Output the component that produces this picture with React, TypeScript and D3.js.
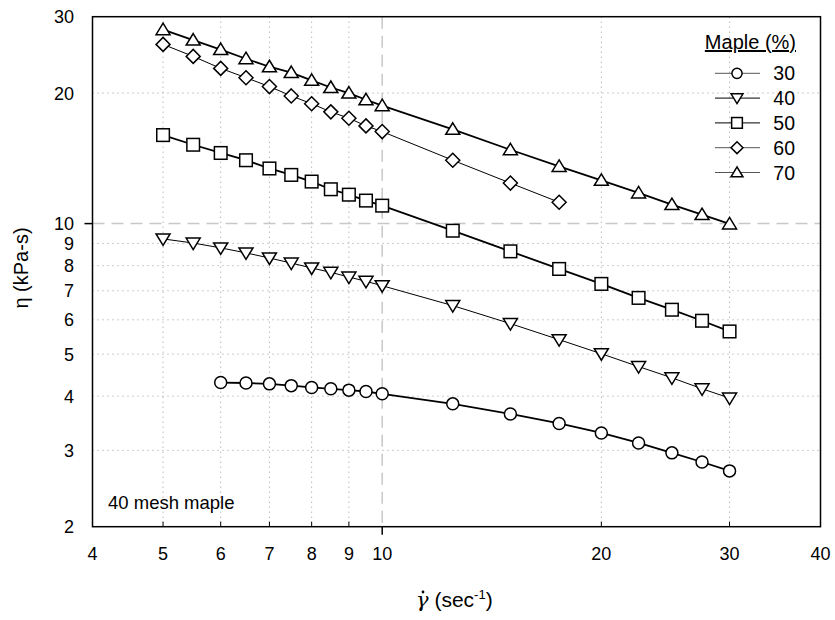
import React from "react";
import * as d3 from "d3";

const xMain = [5, 5.5, 6, 6.5, 7, 7.5, 8, 8.5, 9, 9.5, 10, 12.5, 15, 17.5, 20, 22.5, 25, 27.5, 30];
const x30 = [6, 6.5, 7, 7.5, 8, 8.5, 9, 9.5, 10, 12.5, 15, 17.5, 20, 22.5, 25, 27.5, 30];
const x60 = [5, 5.5, 6, 6.5, 7, 7.5, 8, 8.5, 9, 9.5, 10, 12.5, 15, 17.5];

const y30 = [4.3, 4.29, 4.27, 4.23, 4.19, 4.16, 4.13, 4.1, 4.05, 3.84, 3.64, 3.46, 3.29, 3.12, 2.96, 2.82, 2.69];
const y40 = [9.22, 9.02, 8.79, 8.56, 8.33, 8.11, 7.9, 7.72, 7.53, 7.36, 7.19, 6.47, 5.88, 5.4, 5.01, 4.68, 4.41, 4.16, 3.96];
const y50 = [16.0, 15.2, 14.55, 14.0, 13.4, 12.95, 12.5, 12.0, 11.66, 11.3, 11.0, 9.63, 8.63, 7.86, 7.26, 6.74, 6.33, 5.97, 5.64];
const y60 = [25.9, 24.3, 22.8, 21.7, 20.7, 19.7, 18.9, 18.1, 17.5, 16.8, 16.3, 14.0, 12.4, 11.2];
const y70 = [28.0, 26.5, 25.2, 24.0, 23.0, 22.3, 21.4, 20.6, 20.0, 19.3, 18.7, 16.5, 14.8, 13.55, 12.58, 11.77, 11.06, 10.49, 9.98];

const seriesNames = ["30", "40", "50", "60", "70"];
const xTicks = [4, 5, 6, 7, 8, 9, 10, 20, 30, 40];
const yTicks = [2, 3, 4, 5, 6, 7, 8, 9, 10, 20, 30];
const xGrid = [5, 6, 7, 8, 9, 20, 30];
const yGrid = [3, 4, 5, 6, 7, 8, 9, 20];

const W = 835, H = 620;
const L = 92.5, R = 820.5, T = 16.7, B = 526.7;
const FONT = "'Liberation Sans', Arial, Helvetica, sans-serif";

type Shape = "circle" | "down" | "square" | "diamond" | "up";

function Marker({ shape, x, y, s = 1 }: { shape: Shape; x: number; y: number; s?: number }) {
  const st = { fill: "#fff", stroke: "#000", strokeWidth: 1.5 };
  if (shape === "circle") return <circle cx={x} cy={y} r={6 * s} {...st} />;
  if (shape === "square") return <rect x={x - 6.3 * s} y={y - 6.3 * s} width={12.6 * s} height={12.6 * s} {...st} />;
  let pts: [number, number][] = [];
  if (shape === "up") pts = [[0, -6.5], [7, 5], [-7, 5]];
  if (shape === "down") pts = [[0, 6.5], [7, -5], [-7, -5]];
  if (shape === "diamond") pts = [[0, -7], [7, 0], [0, 7], [-7, 0]];
  const d = "M" + pts.map(([a, b]) => `${x + a * s},${y + b * s}`).join("L") + "Z";
  return <path d={d} {...st} strokeLinejoin="miter" />;
}

export default function App() {
  const xs = d3.scaleLog().domain([4, 40]).range([L, R]);
  const ys = d3.scaleLog().domain([2, 30]).range([B, T]);

  const series: { name: string; xv: number[]; yv: number[]; shape: Shape; lw: number; legStroke: string }[] = [
    { name: seriesNames[0], xv: x30, yv: y30, shape: "circle", lw: 1.8, legStroke: "#555" },
    { name: seriesNames[1], xv: xMain, yv: y40, shape: "down", lw: 1, legStroke: "#000" },
    { name: seriesNames[2], xv: xMain, yv: y50, shape: "square", lw: 1.8, legStroke: "#000" },
    { name: seriesNames[3], xv: x60, yv: y60, shape: "diamond", lw: 1, legStroke: "#555" },
    { name: seriesNames[4], xv: xMain, yv: y70, shape: "up", lw: 1.8, legStroke: "#555" },
  ];

  const line = d3
    .line<[number, number]>()
    .x((d) => xs(d[0]))
    .y((d) => ys(d[1]));

  const legX = 737;
  const legY0 = 73.3;
  const legDy = 24.8;

  return (
    <svg width={W} height={H} style={{ position: "absolute", left: 0, top: 0, background: "#fff" }} fontFamily={FONT}>
      <rect x={0} y={0} width={W} height={H} fill="#fff" />
      {/* grid */}
      {xGrid.map((v) => (
        <line key={"gx" + v} x1={xs(v)} x2={xs(v)} y1={T} y2={B} stroke="#9a9a9a" strokeWidth={1} strokeDasharray="1,4" />
      ))}
      {yGrid.map((v) => (
        <line key={"gy" + v} x1={L} x2={R} y1={ys(v)} y2={ys(v)} stroke="#9a9a9a" strokeWidth={1} strokeDasharray="1,4" />
      ))}
      <line x1={xs(10)} x2={xs(10)} y1={T} y2={B} stroke="#c8c8c8" strokeWidth={1.5} strokeDasharray="12,7" />
      <line x1={L} x2={R} y1={ys(10)} y2={ys(10)} stroke="#c8c8c8" strokeWidth={1.5} strokeDasharray="12,7" />

      {/* series */}
      {series.map((s) => (
        <g key={"s" + s.name}>
          <path
            d={line(s.xv.map((x, i) => [x, s.yv[i]] as [number, number])) || ""}
            fill="none"
            stroke="#000"
            strokeWidth={s.lw}
          />
          {s.xv.map((x, i) => (
            <Marker key={i} shape={s.shape} x={xs(x)} y={ys(s.yv[i])} />
          ))}
        </g>
      ))}

      {/* frame */}
      <rect x={L} y={T} width={R - L} height={B - T} fill="none" stroke="#000" strokeWidth={1.5} />

      {/* ticks */}
      {xTicks.filter((v) => v !== 4 && v !== 40).map((v) =>
        v === 10 ? (
          <line key={"tx" + v} x1={xs(v)} x2={xs(v)} y1={B} y2={B + 8} stroke="#000" strokeWidth={1.5} />
        ) : (
          <line key={"tx" + v} x1={xs(v)} x2={xs(v)} y1={B} y2={B - 5} stroke="#000" strokeWidth={1} />
        )
      )}
      <line x1={L - 8} x2={L} y1={ys(10)} y2={ys(10)} stroke="#000" strokeWidth={1.5} />

      {/* tick labels */}
      {xTicks.map((v) => (
        <text key={"lx" + v} x={xs(v)} y={B + 33} textAnchor="middle" fontSize={18} fill="#000">
          {v}
        </text>
      ))}
      {yTicks.map((v) => (
        <text key={"ly" + v} x={74} y={ys(v) + 6.5} textAnchor="end" fontSize={18} fill="#000">
          {v}
        </text>
      ))}

      {/* axis titles */}
      <text transform={`translate(28,268) rotate(-90)`} textAnchor="middle" fontSize={20} fill="#000">
        η (kPa-s)
      </text>
      <text x={416} y={607} fontSize={21} fill="#000">
        <tspan fontStyle="italic" fontFamily="'DejaVu Serif', serif">γ</tspan>
        <tspan> (sec</tspan>
        <tspan dy={-8} fontSize={13}>-1</tspan>
        <tspan dy={8}>)</tspan>
      </text>
      <circle cx={423} cy={592} r={1.4} fill="#000" />

      {/* annotation */}
      <text x={108} y={509} fontSize={18.5} fill="#000">40 mesh maple</text>

      {/* legend */}
      <text x={796} y={49} textAnchor="end" fontSize={20} fill="#000" textDecoration="underline">
        Maple (%)
      </text>
      {series.map((s, i) => (
        <g key={"lg" + s.name}>
          <line x1={715} x2={760} y1={legY0 + i * legDy} y2={legY0 + i * legDy} stroke={s.legStroke} strokeWidth={1} />
          <Marker shape={s.shape} x={legX} y={legY0 + i * legDy} s={0.85} />
          <text x={795} y={legY0 + i * legDy + 7} textAnchor="end" fontSize={19.5} fill="#000">
            {s.name}
          </text>
        </g>
      ))}
    </svg>
  );
}
